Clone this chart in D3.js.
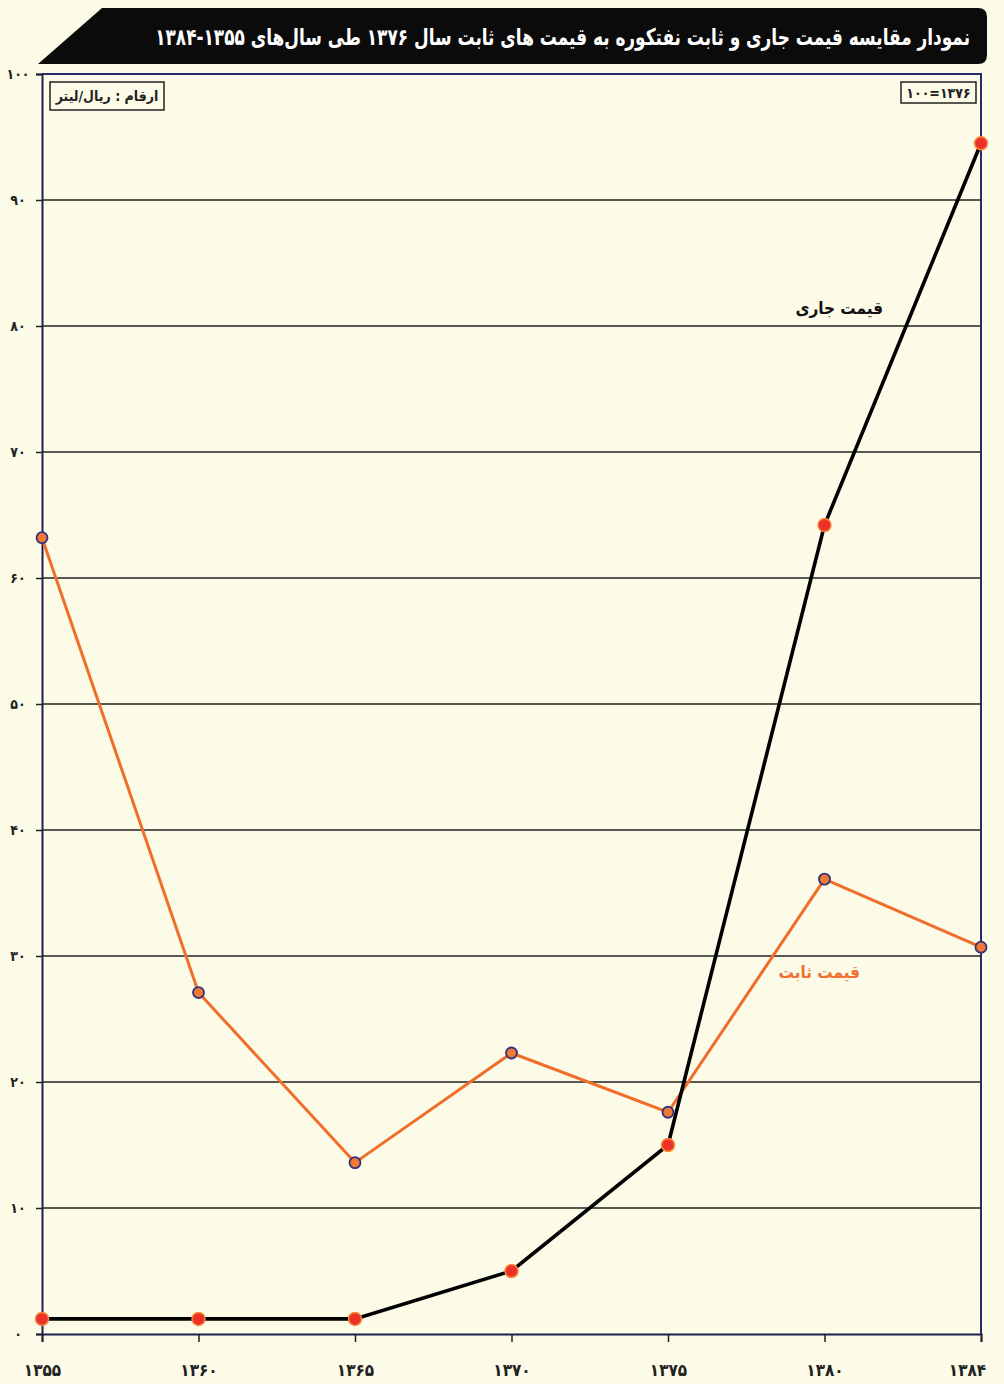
<!DOCTYPE html>
<html>
<head>
<meta charset="utf-8">
<script src="https://cdn.jsdelivr.net/npm/d3@7"></script>
<style>
  html, body { margin: 0; padding: 0; background: #fcfbe7; }
  svg { display: block; }
  text { font-family: "DejaVu Sans Condensed", "DejaVu Sans", sans-serif; }
</style>
</head>
<body>
<div id="chart"></div>
<script>
// years (equally spaced categories)
const years = ["1355", "1360", "1365", "1370", "1375", "1380", "1384"];
// current price (rial/litre)
const currentPrice = [1.2, 1.2, 1.2, 5.0, 15.0, 64.2, 94.5];
// constant price (base 1376)
const constantPrice = [63.2, 27.1, 13.6, 22.3, 17.6, 36.1, 30.7];
const yTicks = [0, 10, 20, 30, 40, 50, 60, 70, 80, 90, 100];

const titleText = "نمودار مقایسه قیمت جاری و ثابت نفتکوره به قیمت های ثابت سال ۱۳۷۶ طی سال‌های ۱۳۵۵-۱۳۸۴";
const unitText = "ارقام : ریال/لیتر";
const baseText = "۱۰۰=۱۳۷۶";

const W = 1004, H = 1384;
const margin = {top: 74, right: 23, bottom: 50, left: 42};

const faDigits = s => String(s).replace(/\d/g, d => "۰۱۲۳۴۵۶۷۸۹"[d]);

const svg = d3.select("#chart").append("svg")
  .attr("width", W).attr("height", H);

svg.append("rect").attr("width", W).attr("height", H).attr("fill", "#fcfbe7");

// title banner
const bx0 = 38, bx1 = 987, by0 = 8, by1 = 64, slant = 64, r = 9;
svg.append("path")
  .attr("d", `M${bx0},${by1} L${bx0 + slant},${by0} L${bx1 - r},${by0} Q${bx1},${by0} ${bx1},${by0 + r}
    L${bx1},${by1 - r} Q${bx1},${by1} ${bx1 - r},${by1} Z`)
  .attr("fill", "#0b0b0b");
const title = svg.append("text")
  .attr("x", 0).attr("y", 0)
  .attr("direction", "rtl")
  .attr("text-anchor", "start")
  .attr("fill", "#fff")
  .attr("font-size", 23)
  .attr("font-weight", "bold")
  .text(titleText);
// squeeze the title horizontally so it fits the banner like the condensed original
const tw = title.node().getComputedTextLength();
const sx = Math.min(1, 815 / tw);
title.attr("transform", `translate(970,45) scale(${sx},1)`);

const x = d3.scalePoint().domain(years).range([margin.left, W - margin.right]);
const y = d3.scaleLinear().domain([0, 100]).range([H - margin.bottom, margin.top]);

const g = svg.append("g");

// gridlines
g.selectAll(".grid").data(yTicks.filter(d => d > 0 && d < 100)).enter()
  .append("line")
  .attr("x1", margin.left).attr("x2", W - margin.right)
  .attr("y1", d => y(d)).attr("y2", d => y(d))
  .attr("stroke", "#222").attr("stroke-width", 1.6);

// frame (top, right)
g.append("path")
  .attr("d", `M${margin.left},${y(100)} H${W - margin.right} V${y(0)}`)
  .attr("fill", "none").attr("stroke", "#2a2a70").attr("stroke-width", 2);

// y axis
const yAxis = g.append("g")
  .attr("transform", `translate(${margin.left},0)`)
  .call(d3.axisLeft(y).tickValues(yTicks).tickSize(6).tickPadding(14).tickFormat(faDigits));
yAxis.select(".domain").attr("stroke", "#1e1e50").attr("stroke-width", 2);
yAxis.selectAll(".tick line").attr("stroke", "#222").attr("stroke-width", 1.5);
yAxis.selectAll(".tick text")
  .attr("fill", "#222").attr("font-size", 14).attr("font-weight", "bold")
  .attr("text-anchor", "middle").attr("x", -24);

// x axis
const xAxis = g.append("g")
  .attr("transform", `translate(0,${y(0)})`)
  .call(d3.axisBottom(x).tickSize(8).tickPadding(22).tickFormat(faDigits));
xAxis.select(".domain").attr("stroke", "#1e1e50").attr("stroke-width", 2);
xAxis.selectAll(".tick line").attr("stroke", "#222").attr("stroke-width", 1.5);
xAxis.selectAll(".tick text")
  .attr("fill", "#222").attr("font-size", 17).attr("font-weight", "bold")
  .attr("dx", (d, i) => i === years.length - 1 ? -14 : 0);

// lines
const line = d3.line().x((d, i) => x(years[i])).y(d => y(d));

g.append("path").datum(constantPrice)
  .attr("d", line).attr("fill", "none")
  .attr("stroke", "#f06e2a").attr("stroke-width", 3);
g.append("path").datum(currentPrice)
  .attr("d", line).attr("fill", "none")
  .attr("stroke", "#000").attr("stroke-width", 3.6);

// markers
g.selectAll(".mConst").data(constantPrice).enter()
  .append("circle")
  .attr("cx", (d, i) => x(years[i])).attr("cy", d => y(d))
  .attr("r", 5.5)
  .attr("fill", "#f07a35").attr("stroke", "#33337a").attr("stroke-width", 1.8);
g.selectAll(".mCur").data(currentPrice).enter()
  .append("circle")
  .attr("cx", (d, i) => x(years[i])).attr("cy", d => y(d))
  .attr("r", 6.5)
  .attr("fill", "#ec3228").attr("stroke", "#f58a3a").attr("stroke-width", 1.5);

// series labels
svg.append("text")
  .attr("x", 883).attr("y", 314)
  .attr("direction", "rtl").attr("text-anchor", "start")
  .attr("font-size", 17).attr("font-weight", "bold").attr("fill", "#111")
  .text("قیمت جاری");
svg.append("text")
  .attr("x", 860).attr("y", 978)
  .attr("direction", "rtl").attr("text-anchor", "start")
  .attr("font-size", 17).attr("font-weight", "bold").attr("fill", "#f07030")
  .text("قیمت ثابت");

// unit box
svg.append("rect")
  .attr("x", 50).attr("y", 82).attr("width", 114).attr("height", 28)
  .attr("fill", "none").attr("stroke", "#222").attr("stroke-width", 1.5);
svg.append("text")
  .attr("x", 107).attr("y", 101)
  .attr("text-anchor", "middle")
  .attr("font-size", 14).attr("font-weight", "bold").attr("fill", "#222")
  .text(unitText);

// base-year box
svg.append("rect")
  .attr("x", 901).attr("y", 82).attr("width", 75).attr("height", 21)
  .attr("fill", "none").attr("stroke", "#222").attr("stroke-width", 1.5);
svg.append("text")
  .attr("x", 938.5).attr("y", 98)
  .attr("text-anchor", "middle")
  .attr("font-size", 14).attr("font-weight", "bold").attr("fill", "#222")
  .text(baseText);
</script>
</body>
</html>
